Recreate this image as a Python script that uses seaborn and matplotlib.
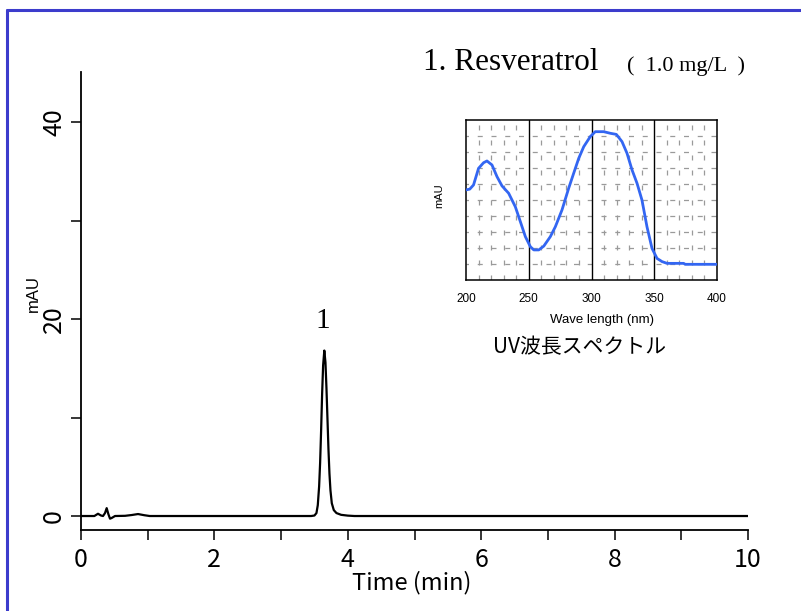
import matplotlib
matplotlib.use("Agg")
import matplotlib.pyplot as plt
from matplotlib.lines import Line2D
import seaborn as sns
import pandas as pd

# ---------------- data ----------------
chrom_time = [0.0, 0.20, 0.255, 0.30, 0.33, 0.36, 0.385, 0.41, 0.435, 0.46, 0.51,
              0.66, 0.76, 0.855, 0.95, 1.03, 2.0, 3.0, 3.45, 3.50, 3.53, 3.55, 3.57,
              3.585, 3.60, 3.615, 3.63, 3.648, 3.665, 3.68, 3.695, 3.71, 3.725,
              3.74, 3.76, 3.79, 3.83, 3.90, 4.0, 4.1, 6.0, 8.0, 10.0]
chrom_signal = [0.0, 0.0, 0.23, 0.05, 0.0, 0.3, 0.8, 0.2, -0.27, -0.2, 0.0,
                0.02, 0.1, 0.2, 0.08, 0.0, 0.0, 0.0, 0.0, 0.05, 0.3, 1.1, 3.0,
                5.4, 8.7, 12.4, 15.3, 16.8, 15.6, 13.0, 9.9, 6.8, 4.3,
                2.6, 1.3, 0.6, 0.3, 0.12, 0.04, 0.0, 0.0, 0.0, 0.0]

spec_wl = [200, 203, 206, 210, 214, 216.7, 220.7, 224.7, 228.7, 234, 239.3, 243.3,
           247.3, 251.3, 254, 258, 262, 267.2, 271.2, 276.5, 281.8, 285.8, 289.8,
           293.8, 299, 303, 309.7, 315, 319.8, 324.3, 328.3, 332.3, 336.3, 340.2,
           344.2, 348.2, 352.2, 356.2, 360.2, 373.4, 374.7, 400]
spec_abs = [5.63, 5.68, 5.94, 6.98, 7.33, 7.44, 7.19, 6.46, 5.88, 5.42, 4.58, 3.65,
            2.71, 2.08, 1.88, 1.88, 2.12, 2.71, 3.33, 4.38, 5.73, 6.67, 7.6,
            8.33, 8.96, 9.27, 9.27, 9.17, 9.1, 8.65, 7.92, 6.88, 6.04, 5.0,
            3.33, 1.98, 1.35, 1.15, 1.04, 1.04, 0.98, 0.98]

x_major = [0, 2, 4, 6, 8, 10]
x_minor = [1, 3, 5, 7, 9]
y_major = [0, 20, 40]
y_minor = [10, 30]
spec_ticks = [200, 250, 300, 350, 400]

# ---------------- style ----------------
sns.set_style("white")
plt.rcParams["font.family"] = ["Liberation Sans", "DejaVu Sans"]
plt.rcParams["text.color"] = "black"
plt.rcParams["xtick.labelcolor"] = "black"
plt.rcParams["ytick.labelcolor"] = "black"
plt.rcParams["xtick.color"] = "black"
plt.rcParams["ytick.color"] = "black"
gothic = ["Noto Sans CJK JP", "DejaVu Sans"]

W, H = 801, 611
fig = plt.figure(figsize=(W / 100, H / 100), dpi=100)
fig.patch.set_facecolor("white")

def fx(px):
    return px / W

def fy(py):
    return 1 - py / H

# ---------------- main chromatogram ----------------
ax = fig.add_axes([fx(81), fy(530), fx(748 - 81), (530 - 72) / H])
df = pd.DataFrame({"t": chrom_time, "s": chrom_signal})
sns.lineplot(data=df, x="t", y="s", ax=ax, color="black", lw=1.6, sort=False)
ax.set_xlim(0, 10)
ax.set_ylim(-1.42, 45.08)
for side in ["top", "right"]:
    ax.spines[side].set_visible(False)
for side in ["left", "bottom"]:
    ax.spines[side].set_linewidth(1.3)
    ax.spines[side].set_color("black")
ax.set_xticks(x_major)
ax.set_xticks(x_minor, minor=True)
ax.set_yticks(y_major)
ax.set_yticks(y_minor, minor=True)
ax.set_xticklabels([str(v) for v in x_major], fontfamily=gothic, fontsize=18,
                   color="black")
ax.set_yticklabels([str(v) for v in y_major], fontfamily=gothic, fontsize=18,
                   rotation=90, va="center", color="black")
ax.tick_params(axis="both", which="both", direction="out", length=7, width=1.1,
               color="black", bottom=True, left=True)
ax.tick_params(axis="x", which="major", pad=5)
ax.tick_params(axis="y", which="major", pad=3)
ax.set_xlabel("")
ax.set_ylabel("")
ax.grid(False)

fig.text(fx(412), fy(583), "Time (min)", fontfamily=gothic, fontsize=17,
         ha="center", va="center", color="black")
fig.text(fx(33), fy(294), "mAU", fontsize=12, rotation=90, ha="center", va="center",
         color="black")

# peak label
i_pk = chrom_signal.index(max(chrom_signal))
ax.annotate("1", xy=(chrom_time[i_pk], chrom_signal[i_pk]), xytext=(-1, 21),
            textcoords="offset points", ha="center", va="center",
            fontfamily="Liberation Serif", fontsize=21, color="black")

# titles
fig.text(fx(423), fy(70), "1. Resveratrol", fontfamily="Liberation Serif",
         fontsize=22.5, ha="left", va="baseline", color="black")
fig.text(fx(627), fy(71), "(  1.0 mg/L  )", fontfamily="Liberation Serif",
         fontsize=16, ha="left", va="baseline", color="black")

# ---------------- inset UV spectrum ----------------
ax2 = fig.add_axes([fx(466), fy(280), fx(717 - 466), 160 / H])
ax2.set_xlim(200, 400)
ax2.set_ylim(0, 10)
for v in range(210, 400, 10):
    if v in (250, 300, 350):
        continue
    ax2.axvline(v, color="#9a9a9a", lw=0.9, ls=(0, (4, 8)), zorder=1)
for v in range(1, 10):
    ax2.axhline(v, color="#9a9a9a", lw=0.9, ls=(2, (4, 7)), zorder=1)
for v in (250, 300, 350):
    ax2.axvline(v, color="black", lw=1.0, zorder=2)
sdf = pd.DataFrame({"wl": spec_wl, "a": spec_abs})
sns.lineplot(data=sdf, x="wl", y="a", ax=ax2, color="#3366f2", lw=2.0, sort=False,
             zorder=3)
for side in ax2.spines.values():
    side.set_visible(True)
    side.set_color("black")
    side.set_linewidth(1.1)
ax2.set_xticks(spec_ticks)
ax2.set_xticklabels([str(v) for v in spec_ticks], fontsize=8.5, color="black")
ax2.set_yticks([])
ax2.tick_params(axis="x", length=0, pad=9)
ax2.set_xlabel("")
ax2.set_ylabel("")
ax2.grid(False)

fig.text(fx(602), fy(320), "Wave length (nm)", fontsize=9.5, ha="center", va="center",
         color="black")
fig.text(fx(439), fy(196), "mAU", fontsize=8, rotation=90, ha="center", va="center",
         color="black")
fig.text(fx(580), fy(347), "UV波長スペクトル", fontfamily=gothic, fontsize=15,
         ha="center", va="center", color="black")

# ---------------- blue frame ----------------
blue = "#3c3ccc"
fig.add_artist(Line2D([fx(7), fx(7)], [0, fy(10)], transform=fig.transFigure,
                      color=blue, lw=2.2))
fig.add_artist(Line2D([fx(7), 1], [fy(10), fy(10)], transform=fig.transFigure,
                      color=blue, lw=2.2))

fig.savefig("out.png", dpi=100, facecolor="white")
